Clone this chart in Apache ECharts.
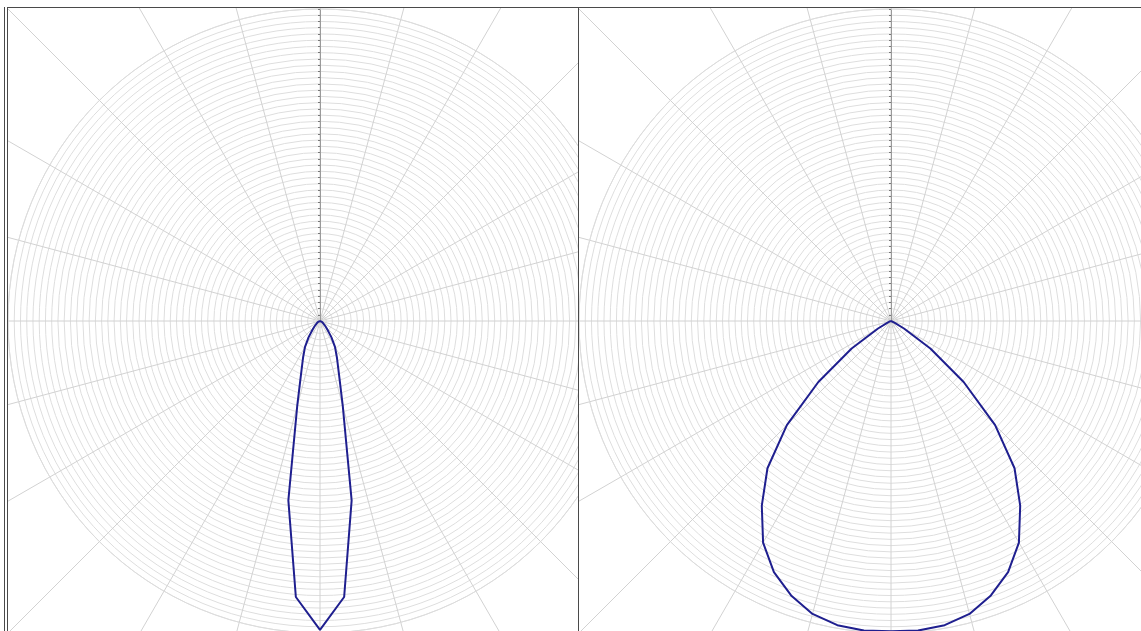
<!DOCTYPE html>
<html>
<head>
<meta charset="utf-8">
<script src="https://cdn.jsdelivr.net/npm/echarts@6/dist/echarts.min.js"></script>
<style>
  html, body { margin: 0; padding: 0; background: #fff; width: 1141px; height: 631px; overflow: hidden; }
  .line { position: absolute; background: #4a4a4a; }
  .chart { position: absolute; overflow: hidden; }
</style>
</head>
<body>
<div class="line" style="left:4px; top:7px; width:1px; height:624px;"></div>
<div class="line" style="left:7px; top:7px; width:1px; height:624px;"></div>
<div class="line" style="left:7px; top:7px; width:1134px; height:1px;"></div>
<div class="line" style="left:578px; top:7px; width:1px; height:624px;"></div>
<div id="c1" class="chart" style="left:8px; top:8px; width:570px; height:623px;"></div>
<div id="c2" class="chart" style="left:579px; top:8px; width:562px; height:623px;"></div>
<script>
// Gamma angles from nadir (degrees), one side; curves are symmetric
var gammaAngles = [0, 5, 10, 15, 20, 25, 30, 35, 40, 45, 50, 55, 60, 65, 70, 75, 80, 85, 90];
// Intensity values (arbitrary units, axis max 500)
var narrowBeam = [495, 444, 292, 141, 88, 64, 48, 32, 19, 13, 8, 6, 5, 4, 3, 2, 2, 1, 0];
var wideBeam   = [497, 498, 495, 486, 468, 444, 410, 361, 308, 236, 152, 77, 24, 6, 2, 0, 0, 0, 0];
var radiusMax = 500;
var radiusInterval = 10;
var spokeInterval = 15;

function buildData(values) {
  var d = [];
  for (var i = gammaAngles.length - 1; i >= 1; i--) d.push([values[i], 180 - gammaAngles[i]]);
  for (var j = 0; j < gammaAngles.length; j++) d.push([values[j], 180 + gammaAngles[j]]);
  return d;
}

function makeOption(values) {
  var center = [312, 313];
  return {
    animation: false,
    polar: [
      { center: center, radius: [0, 1000] },
      { center: center, radius: [0, 312] }
    ],
    angleAxis: [
      {
        polarIndex: 0, type: 'value', min: 0, max: 360, interval: spokeInterval,
        startAngle: 90, clockwise: true,
        axisLine: { show: false }, axisTick: { show: false }, axisLabel: { show: false },
        splitLine: { show: true, lineStyle: { color: '#d2d2d2', width: 1 } }
      },
      {
        polarIndex: 1, type: 'value', min: 0, max: 360, interval: spokeInterval,
        startAngle: 90, clockwise: true,
        axisLine: { show: true, lineStyle: { color: '#dcdcdc', width: 1 } },
        axisTick: { show: false }, axisLabel: { show: false },
        splitLine: { show: false }
      }
    ],
    radiusAxis: [
      {
        polarIndex: 0, type: 'value', min: 0, max: 1000,
        axisLine: { show: false }, axisTick: { show: false }, axisLabel: { show: false },
        splitLine: { show: false }
      },
      {
        polarIndex: 1, type: 'value', min: 0, max: radiusMax, interval: radiusInterval,
        axisLine: { show: true, lineStyle: { color: '#9a9a9a', width: 1 } },
        axisTick: { show: true, length: 2, lineStyle: { color: '#777', width: 1 } },
        axisLabel: { show: false },
        splitLine: { show: true, lineStyle: { color: '#dedede', width: 1 } }
      }
    ],
    series: [{
      type: 'line',
      coordinateSystem: 'polar',
      polarIndex: 1,
      data: buildData(values),
      showSymbol: false,
      symbol: 'none',
      lineStyle: { color: '#1f1f8f', width: 2 },
      z: 10
    }]
  };
}

echarts.init(document.getElementById('c1'), null, { renderer: 'canvas' }).setOption(makeOption(narrowBeam));
echarts.init(document.getElementById('c2'), null, { renderer: 'canvas' }).setOption(makeOption(wideBeam));
</script>
</body>
</html>
